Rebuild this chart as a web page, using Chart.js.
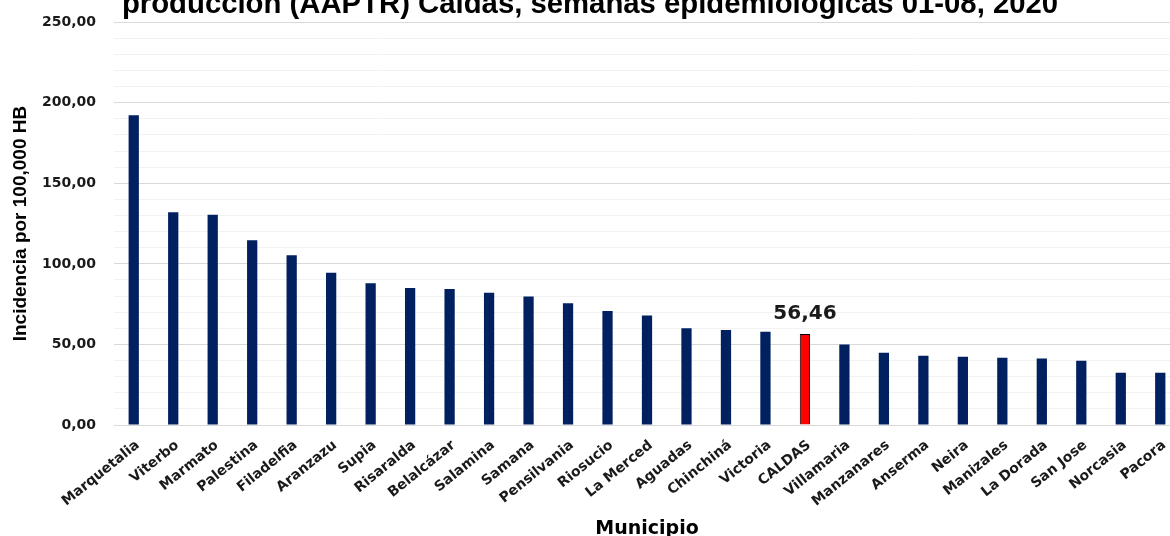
<!DOCTYPE html>
<html>
<head>
<meta charset="utf-8">
<script src="https://cdn.jsdelivr.net/npm/chart.js@4.4.1/dist/chart.umd.min.js"></script>
<style>
  html, body { margin: 0; padding: 0; background: #ffffff; overflow: hidden; }
  #wrap { position: relative; width: 1170px; height: 536px; overflow: hidden; }
  #c { position: absolute; left: 0; top: -13px; }
</style>
</head>
<body>
<div id="wrap"><canvas id="c" width="1190" height="553"></canvas></div>
<script>
// ---- Data ----
const municipios = ['Marquetalia','Viterbo','Marmato','Palestina','Filadelfia','Aranzazu','Supia','Risaralda','Belalcázar','Salamina','Samana','Pensilvania','Riosucio','La Merced','Aguadas','Chinchiná','Victoria','CALDAS','Villamaria','Manzanares','Anserma','Neira','Manizales','La Dorada','San Jose','Norcasia','Pacora'];
const incidencia = [192.3, 132.1, 130.5, 114.6, 105.3, 94.5, 87.9, 85.0, 84.4, 82.1, 79.8, 75.5, 70.7, 68.0, 60.0, 58.9, 57.9, 56.46, 50.0, 44.9, 43.0, 42.4, 41.8, 41.2, 39.9, 32.4, 32.4];
const yTickLabels = ['0,00','50,00','100,00','150,00','200,00','250,00'];
const highlighted = 'CALDAS';
const titleText = 'producción (AAPTR) Caldas, semanas epidemiológicas 01-08, 2020';
const yTitle = 'Incidencia por 100,000 HB';
const xTitle = 'Municipio';

const NAVY = '#00205F';
const RED = '#FF0000';

const fmt = v => v.toFixed(2).replace('.', ',');

const valueLabel = {
  id: 'valueLabel',
  afterDatasetsDraw(chart) {
    const meta = chart.getDatasetMeta(0);
    const idx = municipios.indexOf(highlighted);
    const el = meta.data[idx];
    const ctx = chart.ctx;
    ctx.save();
    ctx.font = 'bold 20px "DejaVu Sans"';
    ctx.fillStyle = '#1a1a1a';
    ctx.textAlign = 'center';
    ctx.textBaseline = 'bottom';
    ctx.fillText(fmt(incidencia[idx]), el.x, el.y - 10);
    ctx.restore();
  }
};

new Chart(document.getElementById('c'), {
  type: 'bar',
  data: {
    labels: municipios,
    datasets: [{
      data: incidencia,
      backgroundColor: municipios.map(m => m === highlighted ? RED : NAVY),
      borderColor: municipios.map(m => m === highlighted ? '#000000' : NAVY),
      borderWidth: municipios.map(m => m === highlighted ? 1 : 0),
      barPercentage: 0.26,
      categoryPercentage: 1.0
    }]
  },
  plugins: [valueLabel],
  options: {
    responsive: false,
    animation: false,
    devicePixelRatio: 1,
    layout: { padding: { left: 0, right: 10, top: 0, bottom: 0 } },
    plugins: {
      legend: { display: false },
      tooltip: { enabled: false },
      title: {
        display: true,
        text: titleText,
        color: '#000000',
        font: { family: '"Liberation Sans", Arial, sans-serif', size: 29.3, weight: 'bold' },
        padding: { top: 0, bottom: 0 }
      }
    },
    scales: {
      x: {
        grid: { display: false, drawTicks: false },
        border: { display: true, color: '#D9D9D9', width: 1 },
        ticks: {
          color: '#1a1a1a',
          font: { family: '"DejaVu Sans", sans-serif', size: 14, weight: 'bold' },
          minRotation: 39,
          maxRotation: 39,
          autoSkip: false,
          padding: 12,
          labelOffset: 4
        },
        title: {
          display: true,
          text: xTitle,
          color: '#000000',
          font: { family: '"DejaVu Sans", sans-serif', size: 19, weight: 'bold' },
          padding: { top: 0, bottom: 0 }
        },
        afterFit: s => { s.height = 115; }
      },
      y: {
        min: 0,
        max: 250,
        grid: {
          drawTicks: false,
          color: ctx => (ctx.tick && ctx.tick.value % 50 === 0) ? '#D9D9D9' : '#F2F2F2',
          lineWidth: 1
        },
        border: { display: false },
        ticks: {
          stepSize: 10,
          autoSkip: false,
          padding: 18,
          color: '#1a1a1a',
          font: { family: '"DejaVu Sans", sans-serif', size: 14, weight: 'bold' },
          callback: v => (v % 50 === 0) ? yTickLabels[v / 50] : ''
        },
        title: {
          display: true,
          text: yTitle,
          color: '#000000',
          font: { family: '"Liberation Sans", Arial, sans-serif', size: 19, weight: 'bold' },
          padding: { top: 9, bottom: 0 }
        },
        afterFit: s => { s.width = 114; }
      }
    }
  }
});
</script>
</body>
</html>
